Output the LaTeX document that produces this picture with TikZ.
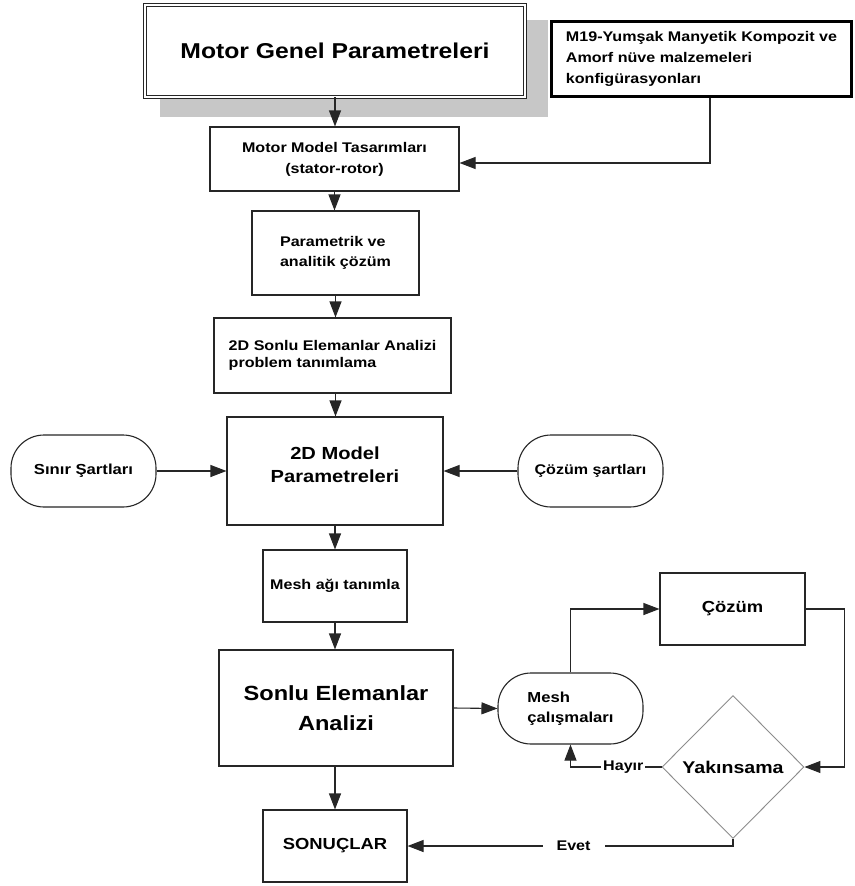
\documentclass[tikz,border=0pt]{standalone}
\usepackage{fontspec}
\setmainfont{Liberation Sans}[FakeStretch=1.15]
\usetikzlibrary{arrows.meta,shapes.geometric}

\begin{document}
\begin{tikzpicture}[x=1pt,y=-1pt,
  edgeline/.style={draw=black!85,line width=1.1pt},
  box/.style={edgeline, rectangle, fill=white, inner sep=0pt, align=center,
    font=\bfseries\fontsize{14}{21}\selectfont},
  pill/.style={box, rounded corners=33pt},
  arr/.style={draw=black!85, line width=1.1pt, -{Triangle[length=16pt,width=12pt]}},
  lbl/.style={fill=white, inner sep=2pt, font=\bfseries\fontsize{14}{17}\selectfont}
]
\useasboundingbox (0,0) rectangle (854,886);

% shadow of title box
\fill[black!22] (160,20) rectangle (548,117);

% nodes
\node[draw=black!85, line width=0.9pt, double, double distance=2pt, fill=white,
      minimum width=380pt, minimum height=92pt, inner sep=0pt,
      font=\bfseries\fontsize{21.5}{25}\selectfont] (title) at (335,51) {Motor Genel Parametreleri};

\node[draw=black, line width=3pt, fill=white, minimum width=300pt, minimum height=75pt,
      inner sep=0pt, align=left, font=\bfseries\fontsize{14}{21}\selectfont]
      (m19) at (701.5,59) {M19-Yumşak Manyetik Kompozit ve\\Amorf nüve malzemeleri\\konfigürasyonları};

\node[box, minimum width=249pt, minimum height=64pt] (mm) at (334.5,159)
      {Motor Model Tasarımları\\(stator-rotor)};

\node[box, align=left, minimum width=167pt, minimum height=84pt,
      font=\bfseries\fontsize{14}{20}\selectfont] (param) at (335.5,253)
      {Parametrik ve\\analitik çözüm};

\node[box, align=left, minimum width=237pt, minimum height=75pt,
      font=\bfseries\fontsize{14}{17}\selectfont] (fea2d) at (332.5,355.5)
      {2D Sonlu Elemanlar Analizi\\problem tanımlama};

\node[box, minimum width=216pt, minimum height=108pt,
      font=\bfseries\fontsize{17.5}{23}\selectfont] (model2d) at (335,471)
      {2D Model\\Parametreleri\\[-10pt]};

\node[pill, minimum width=145pt, minimum height=72pt,
      font=\bfseries\fontsize{14.5}{18}\selectfont] (sinir) at (83.5,471) {Sınır Şartları};

\node[pill, minimum width=145pt, minimum height=72pt,
      font=\bfseries\fontsize{14}{18}\selectfont] (cozsart) at (590.5,471) {Çözüm şartları};

\node[box, minimum width=144pt, minimum height=72pt] (meshagi) at (335,586) {Mesh ağı tanımla};

\node[box, minimum width=234pt, minimum height=116pt,
      font=\bfseries\fontsize{20.5}{30}\selectfont] (sonlu) at (336,708)
      {Sonlu Elemanlar\\Analizi};

\node[box, minimum width=144pt, minimum height=72pt,
      font=\bfseries\fontsize{16}{20}\selectfont] (sonuc) at (335,846) {SONUÇLAR};

\node[pill, align=left, minimum width=145pt, minimum height=71pt,
      font=\bfseries\fontsize{14.5}{20}\selectfont] (meshcal) at (570.5,708.5)
      {Mesh\\çalışmaları};

\node[box, minimum width=145pt, minimum height=72pt,
      font=\bfseries\fontsize{16}{20}\selectfont] (cozum) at (732.5,609) {Çözüm};

\node[diamond, draw=black!45, line width=0.9pt, fill=white, inner sep=0pt,
      minimum width=142pt, minimum height=143pt,
      font=\bfseries\fontsize{17}{20}\selectfont] (yak) at (733,767) {Yakınsama};

% connectors
\draw[arr] (title.south) -- (title.south |- mm.north);
\draw[arr] ([xshift=8.5pt]m19.south) |- ([yshift=-4pt]mm.east);
\draw[arr] (mm.south) -- (mm.south |- param.north);
\draw[arr] (param.south) -- (param.south |- fea2d.north);
\draw[arr] (fea2d.south -| param.south) -- (param.south |- model2d.north);
\draw[arr] (sinir.east) -- (model2d.west);
\draw[arr] (cozsart.west) -- (model2d.east);
\draw[arr] (model2d.south) -- (model2d.south |- meshagi.north);
\draw[arr] (meshagi.south) -- (meshagi.south |- sonlu.north);
\draw[arr] (sonlu.south -| meshagi.south) -- (meshagi.south |- sonuc.north);
\draw[arr] (sonlu.east) -- (meshcal.west);
\draw[arr] (meshcal.north) |- (cozum.west);
\draw[arr] (cozum.east) -- ++(39,0) |- (yak.east);
\draw[arr] (yak.west) -| node[lbl, pos=0.21] {Hayır} (meshcal.south);
\draw[arr] (yak.south) |- node[lbl, pos=0.745, inner xsep=14pt] {Evet} (sonuc.east);

\end{tikzpicture}
\end{document}
